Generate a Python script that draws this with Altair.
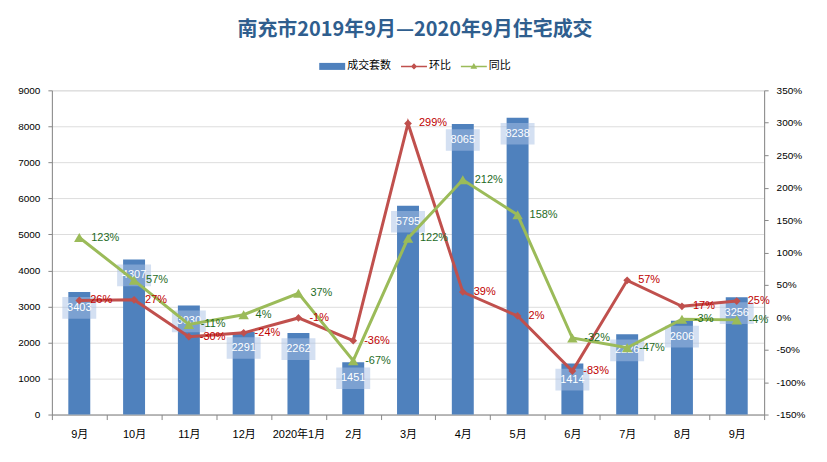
import altair as alt
import pandas as pd

# ---- data ----
keys = ["2019-09", "2019-10", "2019-11", "2019-12", "2020-01", "2020-02", "2020-03",
        "2020-04", "2020-05", "2020-06", "2020-07", "2020-08", "2020-09"]
labels = ["9月", "10月", "11月", "12月", "2020年1月", "2月", "3月",
          "4月", "5月", "6月", "7月", "8月", "9月"]
volume = [3403, 4307, 3030, 2291, 2262, 1451, 5795, 8065, 8238, 1414, 2226, 2606, 3256]
mom = [26, 27, -30, -24, -1, -36, 299, 39, 2, -83, 57, 17, 25]      # 环比 %
yoy = [123, 57, -11, 4, 37, -67, 122, 212, 158, -32, -47, -3, -4]   # 同比 %
series = ["成交套数", "环比", "同比"]
left_ticks = list(range(0, 9001, 1000))
right_ticks = list(range(-150, 351, 50))

TITLE = "南充市2019年9月—2020年9月住宅成交"

BAR = "#4f81bd"
RED = "#c0504d"
GREEN = "#9bbb59"
RED_TXT = "#c00000"
GREEN_TXT = "#1f6b1f"
NUM_FONT = "Liberation Sans, Noto Sans CJK SC"
CJK_FONT = "Noto Sans CJK SC"

df = pd.DataFrame({"key": keys, "label": labels, "volume": volume, "mom": mom, "yoy": yoy})

label_expr = "[" + ",".join(f"'{l}'" for l in labels) + "][indexof([" + \
    ",".join(f"'{k}'" for k in keys) + "], datum.value)]"

x_enc = alt.X(
    "key:N", sort=keys, title=None,
    scale=alt.Scale(paddingInner=0, paddingOuter=0),
    axis=alt.Axis(labelExpr=label_expr, labelAngle=0, tickBand="extent", tickSize=5,
                  labelPadding=9, labelFont=NUM_FONT, labelFontSize=11, grid=False),
)

vol_axis = alt.Axis(values=left_ticks, title=None, grid=True, tickSize=4, labelPadding=8,
                    format="d")
pct_axis = alt.Axis(values=right_ticks, title=None, grid=False, orient="right", tickSize=4,
                    labelPadding=8, labelExpr="datum.value + '%'")


def vy(field):
    return alt.Y(field, scale=alt.Scale(domain=[0, 9000], nice=False, zero=True), axis=vol_axis)


def py(field):
    return alt.Y(field, scale=alt.Scale(domain=[-150, 350], nice=False, zero=False), axis=pct_axis)


base = alt.Chart(df).transform_calculate(
    mom_txt="datum.mom + '%'", yoy_txt="datum.yoy + '%'"
)

bars = base.mark_bar(size=22, color=BAR).encode(x=x_enc, y=vy("volume:Q"))
box_path = "M-1,-0.64L1,-0.64L1,0.64L-1,0.64Z"
boxes = base.mark_point(shape=box_path, size=34 * 34, filled=True, color="#a9c2e6",
                        opacity=0.5, yOffset=16).encode(x=x_enc, y=vy("volume:Q"))
bar_txt = base.mark_text(dy=16, color="white", font=NUM_FONT, fontSize=11).encode(
    x=x_enc, y=vy("volume:Q"), text=alt.Text("volume:Q", format="d"))

vol_group = alt.layer(bars, boxes, bar_txt)

line_m = base.mark_line(color=RED, strokeWidth=3).encode(x=x_enc, y=py("mom:Q"))
pts_m = base.mark_point(shape="diamond", filled=True, size=60, color=RED, opacity=1).encode(
    x=x_enc, y=py("mom:Q"))
txt_m = base.mark_text(align="left", dx=11, dy=0, color=RED_TXT, font=NUM_FONT,
                       fontSize=11).encode(x=x_enc, y=py("mom:Q"), text="mom_txt:N")

line_y = base.mark_line(color=GREEN, strokeWidth=3).encode(x=x_enc, y=py("yoy:Q"))
pts_y = base.mark_point(shape="triangle-up", filled=True, size=110, color=GREEN,
                        opacity=1).encode(x=x_enc, y=py("yoy:Q"))
txt_y = base.mark_text(align="left", dx=12, dy=0, color=GREEN_TXT, font=NUM_FONT,
                       fontSize=11).encode(x=x_enc, y=py("yoy:Q"), text="yoy_txt:N")

# legend (symbols only, driven by series names)
sym_paths = [
    "M-1,-0.27L1,-0.27L1,0.27L-1,0.27Z",
    "M-1,-0.06L1,-0.06L1,0.06L-1,0.06Z M0,-0.24L0.24,0L0,0.24L-0.24,0Z",
    "M-1,-0.06L1,-0.06L1,0.06L-1,0.06Z M0,-0.26L0.26,0.18L-0.26,0.18Z",
]
leg = alt.Legend(title=None, orient="none", legendX=268, legendY=-37, direction="horizontal",
                 symbolSize=676, symbolStrokeWidth=0, labelFont=CJK_FONT, labelFontSize=11,
                 labelColor="#000000", columnPadding=10, labelOffset=2)
legend_layer = alt.Chart(pd.DataFrame({"s": series})).transform_filter(
    "datum.s == '__none__'"
).mark_point(filled=True, opacity=1).encode(
    color=alt.Color("s:N", scale=alt.Scale(domain=series, range=[BAR, RED, GREEN]), legend=leg),
    shape=alt.Shape("s:N", scale=alt.Scale(domain=series, range=sym_paths), legend=leg),
)

pct_group = alt.layer(line_m, line_y, pts_m, pts_y, txt_m, txt_y, legend_layer)

chart = alt.layer(vol_group, pct_group).resolve_scale(y="independent").properties(
    width=714, height=325,
    autosize=alt.AutoSizeParams(type="none"),
    padding={"left": 44, "top": 82, "right": 55, "bottom": 37},
    title=alt.TitleParams(TITLE, font=CJK_FONT, fontSize=20, fontWeight="bold",
                          color="#2f5e8e", anchor="middle", dx=7, offset=13),
).configure_view(fill="#f2f2f2", stroke="transparent").configure_axis(
    labelFont=NUM_FONT, labelFontSize=11, labelColor="#000000",
    domainColor="#868686", tickColor="#868686", gridColor="#d9d9d9", domainWidth=1,
).configure(background="white")

chart.save("out.html", embed_options={"renderer": "svg", "actions": False})
